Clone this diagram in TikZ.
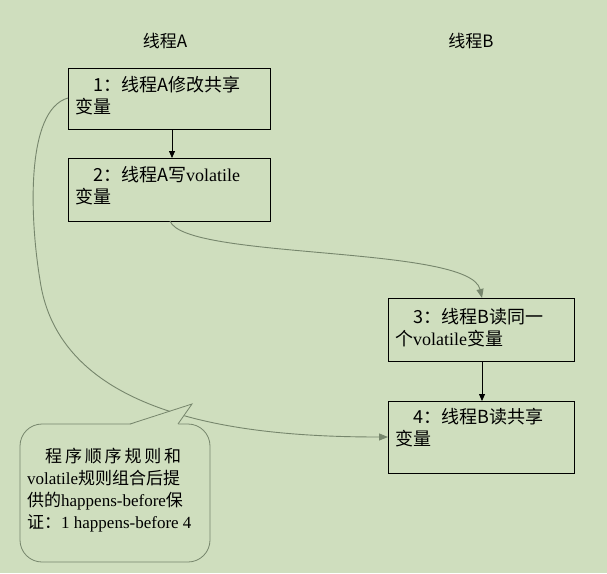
\documentclass[tikz,border=0pt]{standalone}
\usepackage{fontspec}
\setmainfont{Liberation Serif}
\newfontfamily\cjk{Noto Sans CJK SC}
\usetikzlibrary{arrows.meta}
\definecolor{bg}{RGB}{207,222,190}
\definecolor{ln}{RGB}{118,134,108}
\tikzset{
 txt/.style={anchor=north west, align=left, font=\fontsize{18}{22}\selectfont, inner sep=0pt},
 blk/.style={-{Triangle[length=7pt,width=6pt]}, line width=0.8pt},
 grn/.style={draw=ln, line width=0.9pt, -{Triangle[length=9pt,width=7pt]}, color=ln},
}
\begin{document}
\begin{tikzpicture}[x=1pt,y=-1pt]
\fill[bg] (0,0) rectangle (607,573);
\useasboundingbox (0,0) rectangle (607,573);
\node[font=\cjk\fontsize{17}{18}\selectfont] (ha) at (165,41) {线程A};
\node[font=\cjk\fontsize{17}{18}\selectfont] (hb) at (471,41) {线程B};
\draw[line width=0.8pt] (68,68) rectangle (270,129);
\coordinate (b1s) at (172,129);
\coordinate (b1w) at (68,98);
\node[txt] (t1) at (93,76) {{\cjk 1：线程A修改共享}\\\hspace*{-18pt}{\cjk 变量}};
\draw[line width=0.8pt] (68,158) rectangle (270,221);
\coordinate (b2n) at (172,158);
\coordinate (b2s) at (170,221);
\node[txt] (t2) at (93,166) {{\cjk 2：线程A写}volatile\\\hspace*{-18pt}{\cjk 变量}};
\draw[line width=0.8pt] (388,298) rectangle (574,361);
\coordinate (b3n) at (482,298);
\coordinate (b3s) at (482,361);
\node[txt] (t3) at (413,308) {{\cjk 3：线程B读同一}\\\hspace*{-18pt}{\cjk 个}volatile{\cjk 变量}};
\draw[line width=0.8pt] (388,401) rectangle (574,473);
\coordinate (b4n) at (482,401);
\coordinate (b4w) at (388,437);
\node[txt] (t4) at (413,408) {{\cjk 4：线程B读共享}\\\hspace*{-18pt}{\cjk 变量}};
\draw[blk] (b1s) -- (b2n);
\draw[blk] (b3s) -- (b4n);
\draw[grn] (b2s) .. controls (185,260) and (470,245) .. (b3n);
\draw[grn] (b1w) .. controls (25,110) and (30,220) .. (40,280) .. controls (60,420) and (250,437) .. (b4w);
\draw[ln, line width=0.8pt, fill=bg, rounded corners=22pt] (20,424) rectangle (210,562);
\fill[bg] (130,424.8) -- (192,404) -- (178,424.8) -- cycle;
\draw[ln, line width=0.8pt] (130,424) -- (192,404) -- (178,424);
\node[txt, font=\fontsize{17}{22}\selectfont] (c) at (27,448)
 {\hspace*{18pt}{\cjk 程\,序\,顺\,序\,规\,则\,和}\\volatile{\cjk 规则组合后提}\\{\cjk 供的}happens-before{\cjk 保}\\{\cjk 证：}1 happens-before 4};
\end{tikzpicture}
\end{document}
